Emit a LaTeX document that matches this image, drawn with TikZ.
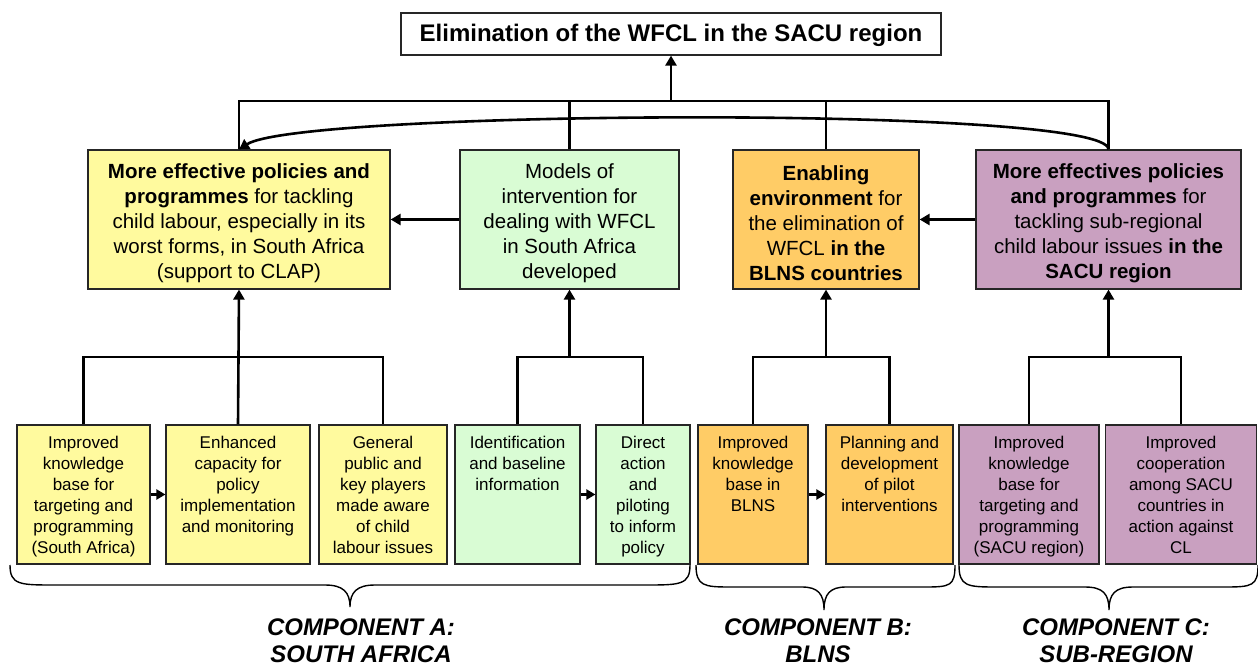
\documentclass[tikz,border=0pt]{standalone}
\usepackage{fontspec}
\setmainfont{Liberation Sans}
\usetikzlibrary{arrows.meta}
\definecolor{cyel}{HTML}{FFFA9E}
\definecolor{cgrn}{HTML}{D9FCD4}
\definecolor{corg}{HTML}{FFCC66}
\definecolor{cpur}{HTML}{C9A0C0}
\newcommand{\lowtext}[2]{\parbox[c][139pt][t]{#1pt}{\centering\vspace*{9pt}\strut#2\par}}
\newcommand{\firstup}{\rule{0pt}{23pt}}
\begin{document}
\begin{tikzpicture}[x=1pt,y=-1pt,
  box/.style={draw=black!85, line width=1.2pt, inner sep=0pt, align=center},
  topbox/.style={box, fill=white, minimum width=540pt, minimum height=42pt, text height=19pt, text depth=3pt, font=\bfseries\fontsize{24}{28}\selectfont},
  midbox/.style={box, minimum height=139pt, font=\fontsize{20.5}{25}\selectfont},
  lowbox/.style={box, font=\fontsize{17}{21}\selectfont},
  conn/.style={line width=2.6pt, line join=miter},
  arr/.style={conn, -{Triangle[length=10pt,width=11pt]}},
  sarr/.style={line width=2.6pt, -{Triangle[length=9pt,width=10pt]}},
  brc/.style={line width=1.4pt},
  comp/.style={align=center, font=\bfseries\itshape\fontsize{24}{27}\selectfont}
]
\useasboundingbox (0,0) rectangle (1258,666);

% top
\node[topbox] (top) at (671,34) {Elimination of the WFCL in the SACU region};

% middle level
\node[midbox, fill=cyel, minimum width=302pt] (m1) at (239,219.5)
  {\firstup\textbf{More effective policies and}\\ \textbf{programmes} for tackling\\ child labour, especially in its\\ worst forms, in South Africa\\ (support to CLAP)};
\node[midbox, fill=cgrn, minimum width=219pt] (m2) at (569.5,219.5)
  {\firstup Models of\\ intervention for\\ dealing with WFCL\\ in South Africa\\ developed};
\node[midbox, fill=corg, minimum width=186pt] (m3) at (826,219.5)
  {\firstup\textbf{Enabling}\\ \textbf{environment} for\\ the elimination of\\ WFCL \textbf{in the}\\ \textbf{BLNS countries}};
\node[midbox, fill=cpur, minimum width=265pt] (m4) at (1108.5,219.5)
  {\firstup\textbf{More effectives policies}\\ \textbf{and programmes} for\\ tackling sub-regional\\ child labour issues \textbf{in the}\\ \textbf{SACU region}};

% bottom level
\node[lowbox, fill=cyel] (b1) at (83.5,494.5) {\lowtext{133}{Improved\\ knowledge\\ base for\\ targeting and\\ programming\\ (South Africa)}};
\node[lowbox, fill=cyel] (b2) at (238,494.5) {\lowtext{144}{Enhanced\\ capacity for\\ policy\\ implementation\\ and monitoring}};
\node[lowbox, fill=cyel] (b3) at (383,494.5) {\lowtext{128}{General\\ public and\\ key players\\ made aware\\ of child\\ labour issues}};
\node[lowbox, fill=cgrn] (b4) at (517.5,494.5) {\lowtext{125}{Identification\\ and baseline\\ information}};
\node[lowbox, fill=cgrn] (b5) at (643,494.5) {\lowtext{94}{Direct\\ action\\ and\\ piloting\\ to inform\\ policy}};
\node[lowbox, fill=corg] (b6) at (753,494.5) {\lowtext{110}{Improved\\ knowledge\\ base in\\ BLNS}};
\node[lowbox, fill=corg] (b7) at (889.5,494.5) {\lowtext{127}{Planning and\\ development\\ of pilot\\ interventions}};
\node[lowbox, fill=cpur] (b8) at (1029,494.5) {\lowtext{140}{Improved\\ knowledge\\ base for\\ targeting and\\ programming\\ (SACU region)}};
\node[lowbox, fill=cpur] (b9) at (1181,494.5) {\lowtext{151}{Improved\\ cooperation\\ among SACU\\ countries in\\ action against\\ CL}};

% top bus
\coordinate (busT) at (671,101);
\draw[conn] (m1.north) |- (m4.north |- busT) -- (m4.north);
\draw[conn] (m2.north) -- (m2.north |- busT);
\draw[conn] (m3.north) -- (m3.north |- busT);
\draw[arr] (busT) -- (top.south);
\draw[arr] (m4.north) .. controls (1108,105) and (300,110) .. (m1.north);

% horizontal arrows between middle boxes
\draw[arr] (m2.west) -- (m1.east);
\draw[arr] (m4.west) -- (m3.east);

% lower buses
\coordinate (busL) at (0,357);
\draw[conn] (b1.north) |- (b3.north |- busL) -- (b3.north);
\draw[arr] (b2.north) -- (m1.south);
\draw[conn] (b4.north) |- (b5.north |- busL) -- (b5.north);
\draw[arr] (m2.south |- busL) -- (m2.south);
\draw[conn] (b6.north) |- (b7.north |- busL) -- (b7.north);
\draw[arr] (m3.south |- busL) -- (m3.south);
\draw[conn] (b8.north) |- (b9.north |- busL) -- (b9.north);
\draw[arr] (m4.south |- busL) -- (m4.south);

% small arrows between bottom boxes
\draw[sarr] (b1.east) -- (b2.west);
\draw[sarr] (b4.east) -- (b5.west);
\draw[sarr] (b6.east) -- (b7.west);

% braces
\draw[brc] (10,565) .. controls (10,585) and (20,585) .. (55,585) -- (325,585)
  .. controls (343,585) and (350,592) .. (350,607)
  .. controls (350,592) and (357,585) .. (375,585) -- (645,585)
  .. controls (680,585) and (690,585) .. (690,565);
\draw[brc] (696,565) .. controls (696,586) and (704,587) .. (730,587) -- (802,587)
  .. controls (818,587) and (824,594) .. (824,610)
  .. controls (824,594) and (830,587) .. (846,587) -- (925,587)
  .. controls (950,587) and (955,586) .. (955,565);
\draw[brc] (959,565) .. controls (959,586) and (967,587) .. (995,587) -- (1085,587)
  .. controls (1103,587) and (1109,594) .. (1109,610)
  .. controls (1109,594) and (1115,587) .. (1133,587) -- (1225,587)
  .. controls (1252,587) and (1258,586) .. (1258,565);

% component labels
\node[comp] (ca) at (361,641) {COMPONENT A:\\ SOUTH AFRICA};
\node[comp] (cb) at (818,641) {COMPONENT B:\\ BLNS};
\node[comp] (cc) at (1116,641) {COMPONENT C:\\ SUB-REGION};
\end{tikzpicture}
\end{document}
